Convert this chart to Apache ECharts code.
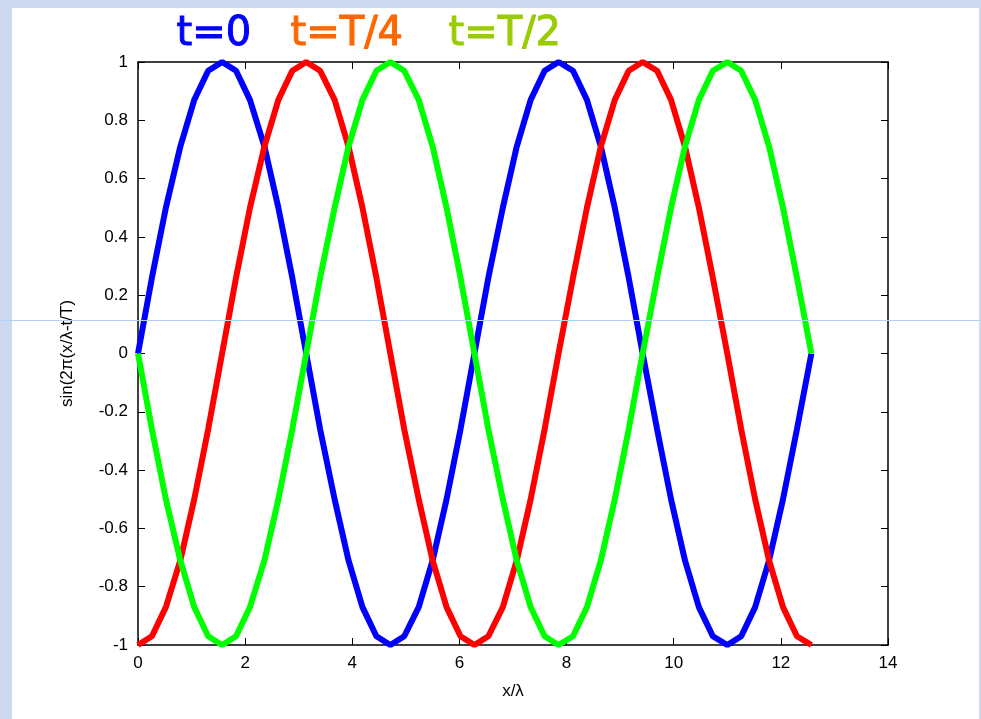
<!DOCTYPE html>
<html>
<head>
<meta charset="utf-8">
<script src="https://cdn.jsdelivr.net/npm/echarts@6/dist/echarts.min.js"></script>
<style>
  html, body { margin: 0; padding: 0; }
  #chart { width: 981px; height: 719px; }
</style>
</head>
<body>
<div id="chart"></div>
<script>
// x positions (x/lambda): 0 .. 4pi
const xs = [0, 0.26, 0.52, 0.79, 1.05, 1.31, 1.57, 1.83, 2.09, 2.36, 2.62, 2.88, 3.14,
  3.40, 3.67, 3.93, 4.19, 4.45, 4.71, 4.97, 5.24, 5.50, 5.76, 6.02, 6.28,
  6.54, 6.81, 7.07, 7.33, 7.59, 7.85, 8.12, 8.38, 8.64, 8.90, 9.16, 9.42,
  9.69, 9.95, 10.21, 10.47, 10.73, 11.00, 11.26, 11.52, 11.78, 12.04, 12.30, 12.57];

// t=0 (blue)
const wave0 = [0, 0.26, 0.5, 0.71, 0.87, 0.97, 1, 0.97, 0.87, 0.71, 0.5, 0.26, 0,
  -0.26, -0.5, -0.71, -0.87, -0.97, -1, -0.97, -0.87, -0.71, -0.5, -0.26, 0,
  0.26, 0.5, 0.71, 0.87, 0.97, 1, 0.97, 0.87, 0.71, 0.5, 0.26, 0,
  -0.26, -0.5, -0.71, -0.87, -0.97, -1, -0.97, -0.87, -0.71, -0.5, -0.26, 0];

// t=T/4 (red)
const waveQ = [-1, -0.97, -0.87, -0.71, -0.5, -0.26, 0, 0.26, 0.5, 0.71, 0.87, 0.97, 1,
  0.97, 0.87, 0.71, 0.5, 0.26, 0, -0.26, -0.5, -0.71, -0.87, -0.97, -1,
  -0.97, -0.87, -0.71, -0.5, -0.26, 0, 0.26, 0.5, 0.71, 0.87, 0.97, 1,
  0.97, 0.87, 0.71, 0.5, 0.26, 0, -0.26, -0.5, -0.71, -0.87, -0.97, -1];

// t=T/2 (green)
const waveH = [0, -0.26, -0.5, -0.71, -0.87, -0.97, -1, -0.97, -0.87, -0.71, -0.5, -0.26, 0,
  0.26, 0.5, 0.71, 0.87, 0.97, 1, 0.97, 0.87, 0.71, 0.5, 0.26, 0,
  -0.26, -0.5, -0.71, -0.87, -0.97, -1, -0.97, -0.87, -0.71, -0.5, -0.26, 0,
  0.26, 0.5, 0.71, 0.87, 0.97, 1, 0.97, 0.87, 0.71, 0.5, 0.26, 0];

const titles = ["t=0", "t=T/4", "t=T/2"];

const chart = echarts.init(document.getElementById("chart"));
const pair = (ys) => xs.map((x, i) => [x, ys[i]]);

const lineSeries = (ys, color) => ({
  type: "line",
  data: pair(ys),
  showSymbol: false,
  lineStyle: { color: color, width: 6 },
  z: 3,
});

const tickFont = { color: "#000", fontSize: 17, fontFamily: "Liberation Sans, Arial" };
const boxLine = { onZero: false, lineStyle: { color: "#000", width: 1.5 } };
const tick = { inside: true, length: 7, lineStyle: { color: "#000" } };

// big coloured labels above the plot
const titleText = (text, x, color) => ({
  type: "text", left: x, top: 14, z: 20,
  style: {
    text: text, fill: color, fontSize: 40, fontFamily: "DejaVu Sans",
    stroke: color, lineWidth: 1,
  },
});

chart.setOption({
  backgroundColor: "#cdd8f1",
  animation: false,
  graphic: [
    { type: "rect", shape: { x: 12, y: 8, width: 967, height: 711 }, style: { fill: "#fff" }, z: -10 },
    { type: "line", shape: { x1: 0, y1: 320.5, x2: 981, y2: 320.5 }, style: { stroke: "#b5d2f0", lineWidth: 1 }, z: 10 },
    titleText(titles[0], 176, "#0000ff"),
    titleText(titles[1], 290, "#ff6600"),
    titleText(titles[2], 448, "#99cc00"),
  ],
  grid: { left: 138, right: 93, top: 62, bottom: 74 },
  xAxis: [
    {
      type: "value", min: 0, max: 14, interval: 2,
      name: "x/λ", nameLocation: "middle", nameGap: 38,
      nameTextStyle: tickFont,
      axisLine: boxLine, axisTick: tick,
      axisLabel: Object.assign({ margin: 10 }, tickFont),
      splitLine: { show: false },
    },
    {
      type: "value", min: 0, max: 14, interval: 2, position: "top",
      axisLine: boxLine, axisTick: tick,
      axisLabel: { show: false },
      splitLine: { show: false },
    },
  ],
  yAxis: [
    {
      type: "value", min: -1, max: 1, interval: 0.2,
      name: "sin(2π(x/λ-t/T)", nameLocation: "middle", nameGap: 62, nameRotate: 90,
      nameTextStyle: tickFont,
      axisLine: boxLine, axisTick: tick,
      axisLabel: Object.assign({ margin: 10, formatter: (v) => String(Math.round(v * 10) / 10) }, tickFont),
      splitLine: { show: false },
    },
    {
      type: "value", min: -1, max: 1, interval: 0.2, position: "right",
      axisLine: boxLine, axisTick: tick,
      axisLabel: { show: false },
      splitLine: { show: false },
    },
  ],
  series: [
    lineSeries(wave0, "#0000ff"),
    lineSeries(waveQ, "#ff0000"),
    lineSeries(waveH, "#00ff00"),
  ],
});
</script>
</body>
</html>
